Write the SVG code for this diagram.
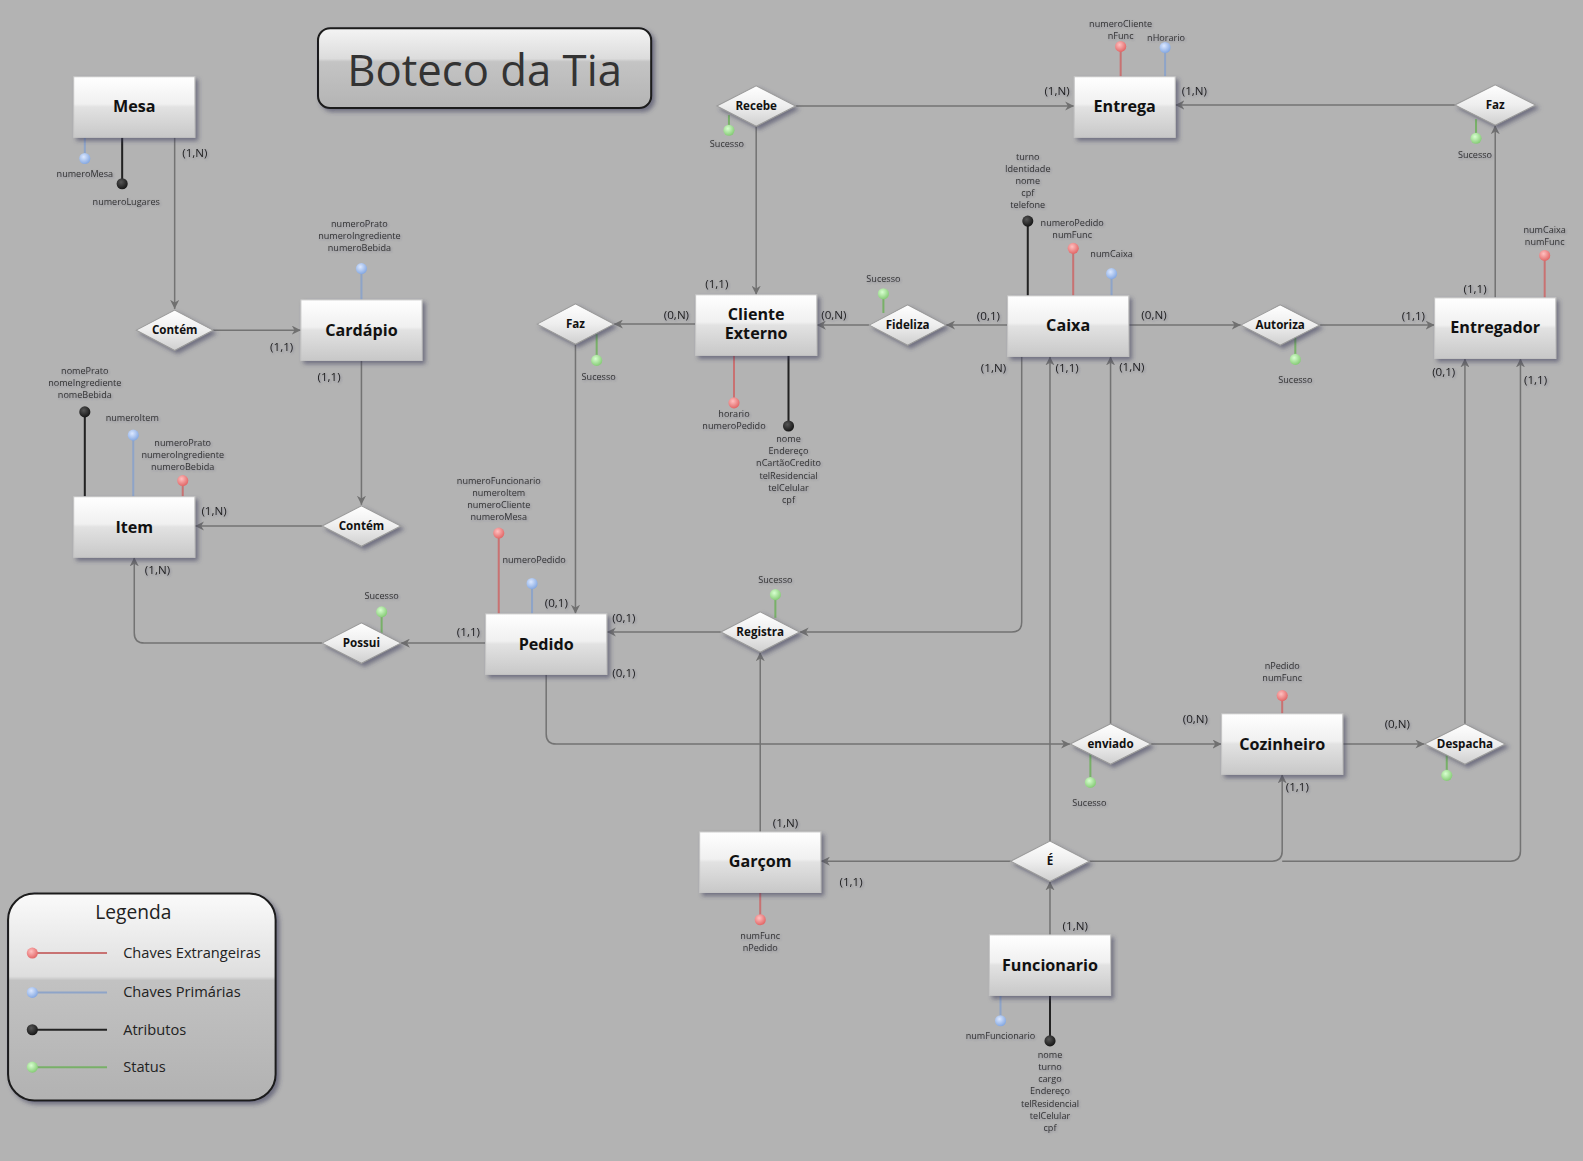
<svg xmlns="http://www.w3.org/2000/svg" width="1583" height="1161" viewBox="0 0 1583 1161">
<defs>
<linearGradient id="gEnt" x1="0" y1="0" x2="0" y2="1">
<stop offset="0" stop-color="#ffffff"/><stop offset="0.45" stop-color="#f0f0f0"/><stop offset="0.5" stop-color="#e2e2e2"/><stop offset="1" stop-color="#c8c8c8"/>
</linearGradient>
<linearGradient id="gDia" x1="0" y1="0" x2="0" y2="1">
<stop offset="0" stop-color="#ffffff"/><stop offset="0.5" stop-color="#eeeeee"/><stop offset="1" stop-color="#cfcfcf"/>
</linearGradient>
<linearGradient id="gTitle" x1="0" y1="0" x2="0" y2="1">
<stop offset="0" stop-color="#f4f4f4"/><stop offset="0.38" stop-color="#dcdcdc"/><stop offset="0.42" stop-color="#c4c4c4"/><stop offset="1" stop-color="#b4b4b4"/>
</linearGradient>
<linearGradient id="gLeg" x1="0" y1="0" x2="0" y2="1">
<stop offset="0" stop-color="#fafafa"/><stop offset="0.4" stop-color="#dedede"/><stop offset="0.42" stop-color="#c2c2c2"/><stop offset="1" stop-color="#b2b2b2"/>
</linearGradient>
<radialGradient id="cR" cx="0.4" cy="0.35" r="0.7"><stop offset="0" stop-color="#ffc0c0"/><stop offset="1" stop-color="#e06060"/></radialGradient>
<radialGradient id="cB" cx="0.4" cy="0.35" r="0.7"><stop offset="0" stop-color="#dce8ff"/><stop offset="1" stop-color="#7fa4e0"/></radialGradient>
<radialGradient id="cK" cx="0.4" cy="0.35" r="0.7"><stop offset="0" stop-color="#555555"/><stop offset="1" stop-color="#111111"/></radialGradient>
<radialGradient id="cG" cx="0.4" cy="0.35" r="0.7"><stop offset="0" stop-color="#d8ffd0"/><stop offset="1" stop-color="#80c870"/></radialGradient>
<filter id="sh" x="-20%" y="-20%" width="150%" height="150%">
<feDropShadow dx="3" dy="3" stdDeviation="2" flood-color="#3a3a5a" flood-opacity="0.55"/>
</filter>
<filter id="tsh" x="-10%" y="-30%" width="130%" height="170%">
<feDropShadow dx="1" dy="1" stdDeviation="0.8" flood-color="#404060" flood-opacity="0.35"/>
</filter>
<marker id="arr" viewBox="0 0 10 10" refX="10" refY="5" markerWidth="9" markerHeight="9" markerUnits="userSpaceOnUse" orient="auto">
<path d="M0,0 L10,5 L0,10 L3,5 z" fill="#707070"/>
</marker>
<style>
.bg{fill:#b3b3b3}
.ent{fill:url(#gEnt);stroke:#c4c4c4;stroke-width:1;filter:url(#sh)}
.dia{fill:url(#gDia);stroke:#9a9a9a;stroke-width:1;filter:url(#sh)}
.el{font-family:"Open Sans","DejaVu Sans",sans-serif;font-weight:bold;font-size:16px;fill:#111;text-anchor:middle}
.dl{font-family:"Open Sans","DejaVu Sans",sans-serif;font-weight:bold;font-size:11.5px;fill:#111;text-anchor:middle}
.at{font-family:"Open Sans","DejaVu Sans",sans-serif;font-size:9px;fill:#333;text-anchor:middle;filter:url(#tsh)}
.card{font-family:"Open Sans","DejaVu Sans",sans-serif;font-size:11.5px;fill:#222;text-anchor:middle;filter:url(#tsh)}
.con{fill:none;stroke:#737373;stroke-width:1.5;marker-end:url(#arr)}
.lr{stroke:#c87272;stroke-width:2}
.lb{stroke:#8ea4c8;stroke-width:2}
.lk{stroke:#222;stroke-width:2}
.lg{stroke:#78b068;stroke-width:2}
.pr{fill:url(#cR)}.pb{fill:url(#cB)}.pk{fill:url(#cK)}.pg{fill:url(#cG)}
.leg{font-family:"Open Sans","DejaVu Sans",sans-serif;font-size:14.5px;fill:#222}
</style>
</defs>
<rect class="bg" x="0" y="0" width="1583" height="1161"/>
<g transform="scale(1.0096)">
<g id="title">
<rect x="315" y="28" width="330" height="79" rx="12" fill="url(#gTitle)" stroke="#1a1a1a" stroke-width="2" filter="url(#sh)"/>
<text x="480" y="85" font-family="'Open Sans','DejaVu Sans',sans-serif" font-size="43" fill="#333" text-anchor="middle" textLength="272" lengthAdjust="spacingAndGlyphs">Boteco da Tia</text>
</g>

<g id="connectors">
<path class="con" d="M173,136 V306"/>
<path class="con" d="M211,327 H298"/>
<path class="con" d="M358,357 V500"/>
<path class="con" d="M319,521 H193"/>
<path class="con" d="M319,637 H143 Q133,637 133,627 V552"/>
<path class="con" d="M481,637 H397"/>
<path class="con" d="M570,341 V608"/>
<path class="con" d="M689,321 H608"/>
<path class="con" d="M749,125 V292"/>
<path class="con" d="M788,105 H1064"/>
<path class="con" d="M1441,104 H1164"/>
<path class="con" d="M1481,295 V124"/>
<path class="con" d="M861,322 H809"/>
<path class="con" d="M998,322 H937"/>
<path class="con" d="M1118,322 H1229"/>
<path class="con" d="M1307,322 H1421"/>
<path class="con" d="M1012,353 V616 Q1012,626 1002,626 H792"/>
<path class="con" d="M714,626 H601"/>
<path class="con" d="M753,824 V646"/>
<path class="con" d="M541,668 V727 Q541,737 551,737 H1060"/>
<path class="con" d="M1100,717 V353"/>
<path class="con" d="M1140,737 H1210"/>
<path class="con" d="M1330,737 H1411"/>
<path class="con" d="M1451,717 V355"/>
<path class="con" d="M1040,833 V353"/>
<path class="con" d="M1001,853 H813"/>
<path class="con" d="M1079,853 H1260 Q1270,853 1270,843 V767"/>
<path class="con" d="M1270,853 H1496 Q1506,853 1506,843 V355"/>
<path class="con" d="M1040,926 V873"/>
</g>

<g id="cardinalities">
<text class="card" x="193" y="156">(1,N)</text>
<text class="card" x="279" y="348">(1,1)</text>
<text class="card" x="326" y="377">(1,1)</text>
<text class="card" x="212" y="510">(1,N)</text>
<text class="card" x="156" y="569">(1,N)</text>
<text class="card" x="464" y="630">(1,1)</text>
<text class="card" x="551" y="601">(0,1)</text>
<text class="card" x="670" y="316">(0,N)</text>
<text class="card" x="710" y="285">(1,1)</text>
<text class="card" x="1047" y="94">(1,N)</text>
<text class="card" x="1183" y="94">(1,N)</text>
<text class="card" x="1461" y="290">(1,1)</text>
<text class="card" x="826" y="316">(0,N)</text>
<text class="card" x="979" y="317">(0,1)</text>
<text class="card" x="1143" y="316">(0,N)</text>
<text class="card" x="1400" y="317">(1,1)</text>
<text class="card" x="984" y="368">(1,N)</text>
<text class="card" x="1057" y="368">(1,1)</text>
<text class="card" x="1121" y="367">(1,N)</text>
<text class="card" x="618" y="616">(0,1)</text>
<text class="card" x="618" y="671">(0,1)</text>
<text class="card" x="778" y="819">(1,N)</text>
<text class="card" x="1184" y="716">(0,N)</text>
<text class="card" x="1384" y="721">(0,N)</text>
<text class="card" x="1430" y="372">(0,1)</text>
<text class="card" x="1521" y="380">(1,1)</text>
<text class="card" x="1285" y="783">(1,1)</text>
<text class="card" x="843" y="878">(1,1)</text>
<text class="card" x="1065" y="921">(1,N)</text>
</g>

<g id="attributes">
<line class="lb" x1="84" y1="136" x2="84" y2="157"/><circle class="pb" cx="84" cy="157" r="5.5"/>
<text class="at" x="84" y="175">numeroMesa</text>
<line class="lk" x1="121" y1="136" x2="121" y2="182"/><circle class="pk" cx="121" cy="182" r="5.5"/>
<text class="at" x="125" y="203">numeroLugares</text>

<line class="lb" x1="358" y1="297" x2="358" y2="266"/><circle class="pb" cx="358" cy="266" r="5.5"/>
<text class="at" x="356" y="225">numeroPrato</text><text class="at" x="356" y="237">numeroIngrediente</text><text class="at" x="356" y="249">numeroBebida</text>

<line class="lk" x1="84" y1="492" x2="84" y2="408"/><circle class="pk" cx="84" cy="408" r="5.5"/>
<text class="at" x="84" y="370">nomePrato</text><text class="at" x="84" y="382">nomeIngrediente</text><text class="at" x="84" y="394">nomeBebida</text>
<line class="lb" x1="132" y1="492" x2="132" y2="431"/><circle class="pb" cx="132" cy="431" r="5.5"/>
<text class="at" x="131" y="417">numeroItem</text>
<line class="lr" x1="181" y1="492" x2="181" y2="476"/><circle class="pr" cx="181" cy="476" r="5.5"/>
<text class="at" x="181" y="442">numeroPrato</text><text class="at" x="181" y="454">numeroIngrediente</text><text class="at" x="181" y="466">numeroBebida</text>

<line class="lr" x1="494" y1="608" x2="494" y2="528"/><circle class="pr" cx="494" cy="528" r="5.5"/>
<text class="at" x="494" y="479">numeroFuncionario</text><text class="at" x="494" y="491">numeroItem</text><text class="at" x="494" y="503">numeroCliente</text><text class="at" x="494" y="515">numeroMesa</text>
<line class="lb" x1="527" y1="608" x2="527" y2="578"/><circle class="pb" cx="527" cy="578" r="5.5"/>
<text class="at" x="529" y="558">numeroPedido</text>

<line class="lg" x1="378" y1="627" x2="378" y2="606"/><circle class="pg" cx="378" cy="606" r="5.5"/>
<text class="at" x="378" y="593">Sucesso</text>

<line class="lg" x1="591" y1="331" x2="591" y2="357"/><circle class="pg" cx="591" cy="357" r="5.5"/>
<text class="at" x="593" y="376">Sucesso</text>

<line class="lr" x1="727" y1="352" x2="727" y2="399"/><circle class="pr" cx="727" cy="399" r="5.5"/>
<text class="at" x="727" y="413">horario</text><text class="at" x="727" y="425">numeroPedido</text>
<line class="lk" x1="781" y1="352" x2="781" y2="422"/><circle class="pk" cx="781" cy="422" r="5.5"/>
<text class="at" x="781" y="438">nome</text><text class="at" x="781" y="450">Endereço</text><text class="at" x="781" y="462">nCartãoCredito</text><text class="at" x="781" y="474">telResidencial</text><text class="at" x="781" y="486">telCelular</text><text class="at" x="781" y="498">cpf</text>

<line class="lg" x1="722" y1="114" x2="722" y2="129"/><circle class="pg" cx="722" cy="129" r="5.5"/>
<text class="at" x="720" y="146">Sucesso</text>

<line class="lr" x1="1110" y1="76" x2="1110" y2="46"/><circle class="pr" cx="1110" cy="46" r="5.5"/>
<text class="at" x="1110" y="27">numeroCliente</text><text class="at" x="1110" y="39">nFunc</text>
<line class="lb" x1="1154" y1="76" x2="1154" y2="47"/><circle class="pb" cx="1154" cy="47" r="5.5"/>
<text class="at" x="1155" y="41">nHorario</text>

<line class="lk" x1="1018" y1="293" x2="1018" y2="219"/><circle class="pk" cx="1018" cy="219" r="5.5"/>
<text class="at" x="1018" y="158">turno</text><text class="at" x="1018" y="170">Identidade</text><text class="at" x="1018" y="182">nome</text><text class="at" x="1018" y="194">cpf</text><text class="at" x="1018" y="206">telefone</text>
<line class="lr" x1="1063" y1="293" x2="1063" y2="246"/><circle class="pr" cx="1063" cy="246" r="5.5"/>
<text class="at" x="1062" y="224">numeroPedido</text><text class="at" x="1062" y="236">numFunc</text>
<line class="lb" x1="1101" y1="293" x2="1101" y2="271"/><circle class="pb" cx="1101" cy="271" r="5.5"/>
<text class="at" x="1101" y="255">numCaixa</text>

<line class="lg" x1="875" y1="310" x2="875" y2="291"/><circle class="pg" cx="875" cy="291" r="5.5"/>
<text class="at" x="875" y="279">Sucesso</text>

<line class="lg" x1="1462" y1="118" x2="1462" y2="137"/><circle class="pg" cx="1462" cy="137" r="5.5"/>
<text class="at" x="1461" y="157">Sucesso</text>

<line class="lr" x1="1530" y1="295" x2="1530" y2="253"/><circle class="pr" cx="1530" cy="253" r="5.5"/>
<text class="at" x="1530" y="231">numCaixa</text><text class="at" x="1530" y="243">numFunc</text>

<line class="lg" x1="1283" y1="330" x2="1283" y2="356"/><circle class="pg" cx="1283" cy="356" r="5.5"/>
<text class="at" x="1283" y="379">Sucesso</text>

<line class="lg" x1="768" y1="612" x2="768" y2="589"/><circle class="pg" cx="768" cy="589" r="5.5"/>
<text class="at" x="768" y="577">Sucesso</text>

<line class="lr" x1="753" y1="884" x2="753" y2="911"/><circle class="pr" cx="753" cy="911" r="5.5"/>
<text class="at" x="753" y="930">numFunc</text><text class="at" x="753" y="942">nPedido</text>

<line class="lg" x1="1080" y1="746" x2="1080" y2="775"/><circle class="pg" cx="1080" cy="775" r="5.5"/>
<text class="at" x="1079" y="798">Sucesso</text>

<line class="lr" x1="1270" y1="707" x2="1270" y2="689"/><circle class="pr" cx="1270" cy="689" r="5.5"/>
<text class="at" x="1270" y="663">nPedido</text><text class="at" x="1270" y="675">numFunc</text>

<line class="lg" x1="1433" y1="745" x2="1433" y2="768"/><circle class="pg" cx="1433" cy="768" r="5.5"/>

<line class="lb" x1="991" y1="986" x2="991" y2="1011"/><circle class="pb" cx="991" cy="1011" r="5.5"/>
<text class="at" x="991" y="1029">numFuncionario</text>
<line class="lk" x1="1040" y1="986" x2="1040" y2="1031"/><circle class="pk" cx="1040" cy="1031" r="5.5"/>
<text class="at" x="1040" y="1048">nome</text><text class="at" x="1040" y="1060">turno</text><text class="at" x="1040" y="1072">cargo</text><text class="at" x="1040" y="1084">Endereço</text><text class="at" x="1040" y="1096">telResidencial</text><text class="at" x="1040" y="1108">telCelular</text><text class="at" x="1040" y="1120">cpf</text>
</g>

<g id="mesa"><rect class="ent" x="73" y="76" width="120" height="60"/><text class="el" x="133" y="111">Mesa</text></g>
<g id="cardapio"><rect class="ent" x="298" y="297" width="120" height="60"/><text class="el" x="358" y="333">Cardápio</text></g>
<g id="item"><rect class="ent" x="73" y="492" width="120" height="60"/><text class="el" x="133" y="528">Item</text></g>
<g id="pedido"><rect class="ent" x="481" y="608" width="120" height="60"/><text class="el" x="541" y="644">Pedido</text></g>
<g id="cliente-externo"><rect class="ent" x="689" y="292" width="120" height="60"/><text class="el" x="749" y="317">Cliente</text><text class="el" x="749" y="336">Externo</text></g>
<g id="entrega"><rect class="ent" x="1064" y="76" width="100" height="60"/><text class="el" x="1114" y="111">Entrega</text></g>
<g id="caixa"><rect class="ent" x="998" y="293" width="120" height="60"/><text class="el" x="1058" y="328">Caixa</text></g>
<g id="entregador"><rect class="ent" x="1421" y="295" width="120" height="60"/><text class="el" x="1481" y="330">Entregador</text></g>
<g id="cozinheiro"><rect class="ent" x="1210" y="707" width="120" height="60"/><text class="el" x="1270" y="743">Cozinheiro</text></g>
<g id="garcom"><rect class="ent" x="693" y="824" width="120" height="60"/><text class="el" x="753" y="859">Garçom</text></g>
<g id="funcionario"><rect class="ent" x="980" y="926" width="120" height="60"/><text class="el" x="1040" y="962">Funcionario</text></g>

<g id="contem1"><polygon class="dia" points="135,327 173,307 211,327 173,347"/><text class="dl" x="173" y="331">Contém</text></g>
<g id="contem2"><polygon class="dia" points="319,521 358,501 397,521 358,541"/><text class="dl" x="358" y="525">Contém</text></g>
<g id="possui"><polygon class="dia" points="319,637 358,617 397,637 358,657"/><text class="dl" x="358" y="641">Possui</text></g>
<g id="faz1"><polygon class="dia" points="532,321 570,301 608,321 570,341"/><text class="dl" x="570" y="325">Faz</text></g>
<g id="recebe"><polygon class="dia" points="710,105 749,85 788,105 749,125"/><text class="dl" x="749" y="109">Recebe</text></g>
<g id="fideliza"><polygon class="dia" points="861,322 899,302 937,322 899,342"/><text class="dl" x="899" y="326">Fideliza</text></g>
<g id="faz2"><polygon class="dia" points="1441,104 1481,84 1521,104 1481,124"/><text class="dl" x="1481" y="108">Faz</text></g>
<g id="autoriza"><polygon class="dia" points="1229,322 1268,302 1307,322 1268,342"/><text class="dl" x="1268" y="326">Autoriza</text></g>
<g id="registra"><polygon class="dia" points="714,626 753,606 792,626 753,646"/><text class="dl" x="753" y="630">Registra</text></g>
<g id="enviado"><polygon class="dia" points="1060,737 1100,717 1140,737 1100,757"/><text class="dl" x="1100" y="741">enviado</text></g>
<g id="despacha"><polygon class="dia" points="1411,737 1451,717 1491,737 1451,757"/><text class="dl" x="1451" y="741">Despacha</text></g>
<g id="e"><polygon class="dia" points="1001,853 1040,833 1079,853 1040,873"/><text class="dl" x="1040" y="857">É</text></g>

<g id="legenda">
<rect x="8" y="885" width="265" height="205" rx="26" fill="url(#gLeg)" stroke="#1a1a1a" stroke-width="2" filter="url(#sh)"/>
<text x="132" y="910" font-family="'Open Sans','DejaVu Sans',sans-serif" font-size="19" fill="#222" text-anchor="middle">Legenda</text>
<line class="lr" x1="32" y1="944" x2="106" y2="944"/><circle class="pr" cx="32" cy="944" r="5.5"/>
<text class="leg" x="122" y="949">Chaves Extrangeiras</text>
<line class="lb" x1="32" y1="983" x2="106" y2="983"/><circle class="pb" cx="32" cy="983" r="5.5"/>
<text class="leg" x="122" y="988">Chaves Primárias</text>
<line class="lk" x1="32" y1="1020" x2="106" y2="1020"/><circle class="pk" cx="32" cy="1020" r="5.5"/>
<text class="leg" x="122" y="1025">Atributos</text>
<line class="lg" x1="32" y1="1057" x2="106" y2="1057"/><circle class="pg" cx="32" cy="1057" r="5.5"/>
<text class="leg" x="122" y="1062">Status</text>
</g>
</g>
</svg>
